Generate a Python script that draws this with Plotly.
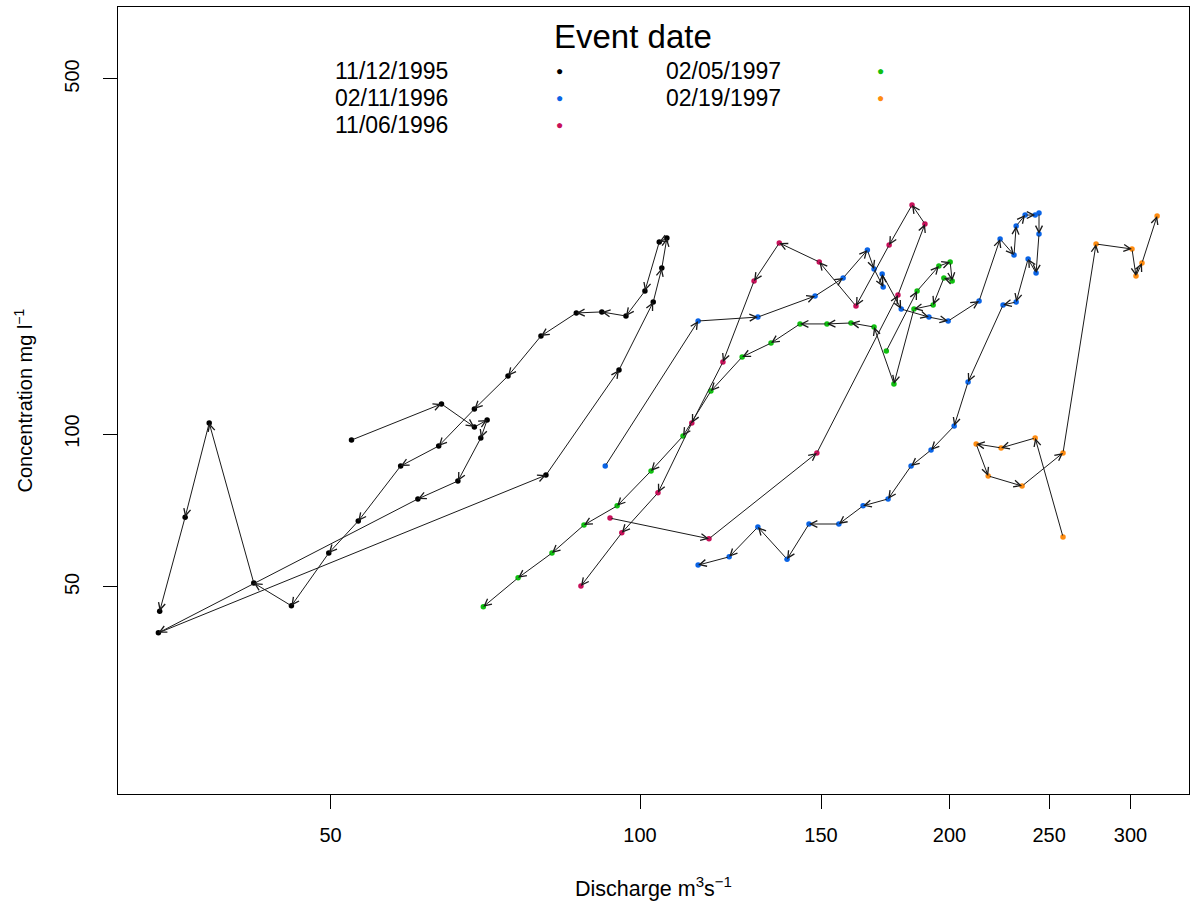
import numpy as np
import plotly.graph_objects as go

# ---------------- data (discharge m3/s, concentration mg/l), in time order ----------------
events = ["11/12/1995", "02/11/1996", "11/06/1996", "02/05/1997", "02/19/1997"]
colors = ["#000000", "#0A64E6", "#C8105A", "#10C010", "#FF8C10"]

q_1995_11_12 = [52.4, 64.1, 69.0, 71.0, 70.0, 66.5, 60.8, 34.0, 81.0, 95.4, 103.0, 105.0, 106.2, 104.4,
                101.1, 96.9, 91.8, 86.7, 80.1, 74.4, 69.0, 63.7, 58.5, 53.2, 49.8, 45.8, 42.1, 38.1, 36.1, 34.1]
c_1995_11_12 = [97.3, 114.6, 103.2, 106.5, 98.2, 80.8, 74.5, 40.6, 83.0, 133.7, 181.9, 212.2, 243.1, 238.8,
                191.2, 170.7, 173.9, 173.1, 155.9, 130.1, 112.0, 94.7, 86.5, 67.4, 58.3, 45.9, 50.9, 105.1, 68.6, 44.8]

q_1996_02_11 = [92.5, 113.9, 130.2, 148.0, 157.6, 166.4, 168.9, 172.4, 172.0, 179.5, 191.0, 199.4, 213.7, 224.0,
                231.1, 232.2, 236.9, 242.3, 244.4, 244.4, 242.8, 238.5, 232.2, 225.5, 208.5, 202.1, 191.9, 183.5,
                174.3, 164.8, 156.1, 146.0, 139.0, 130.2, 122.1, 113.9]
c_1996_02_11 = [86.5, 166.9, 169.9, 186.9, 202.8, 230.2, 211.3, 194.7, 206.5, 176.2, 169.9, 166.9, 182.7, 242.0,
                225.1, 256.7, 269.8, 269.8, 272.3, 247.6, 207.5, 221.1, 181.9, 179.5, 126.6, 103.7, 93.0, 86.5,
                74.5, 72.2, 66.5, 66.5, 56.7, 65.6, 57.3, 55.2]

q_1996_11_06 = [93.5, 116.7, 148.6, 178.2, 189.3, 183.9, 174.7, 162.2, 149.4, 136.6, 129.1, 120.4, 112.3, 104.1, 96.0, 87.6]
c_1996_11_06 = [68.3, 62.2, 91.8, 187.7, 259.1, 282.4, 235.5, 178.6, 218.1, 237.7, 200.1, 138.6, 105.1, 76.6, 63.9, 50.2]

q_1997_02_05 = [173.6, 186.0, 195.3, 200.3, 201.2, 197.5, 192.8, 184.7, 176.6, 168.9, 160.4, 152.0, 143.1, 134.1,
                125.7, 117.2, 110.1, 102.5, 95.0, 88.2, 82.1, 76.1, 70.4]
c_1997_02_05 = [145.7, 191.2, 214.1, 218.1, 200.1, 202.8, 179.5, 176.2, 125.5, 162.4, 165.4, 164.7, 164.7, 151.0,
                141.8, 121.5, 99.1, 84.6, 72.2, 66.2, 58.3, 52.1, 45.7]

q_1997_02_19 = [257.9, 242.3, 224.5, 212.3, 218.1, 235.3, 257.9, 277.7, 301.0, 303.7, 307.8, 318.4]
c_1997_02_19 = [62.7, 98.2, 93.9, 95.6, 82.7, 79.0, 91.8, 236.6, 231.3, 204.6, 217.1, 268.6]

series_q = [q_1995_11_12, q_1996_02_11, q_1996_11_06, q_1997_02_05, q_1997_02_19]
series_c = [c_1995_11_12, c_1996_02_11, c_1996_11_06, c_1997_02_05, c_1997_02_19]

x_ticks = [50, 100, 150, 200, 250, 300]
y_ticks = [50, 100, 500]

FONT = "Liberation Sans, Arial, Helvetica, sans-serif"

fig = go.Figure()
annotations = []

for name, col, qs, cs in zip(events, colors, series_q, series_c):
    lq = np.log10(qs)
    lc = np.log10(cs)
    # segments with arrow heads at each successive point
    for i in range(1, len(qs)):
        annotations.append(dict(
            x=lq[i], y=lc[i], ax=lq[i - 1], ay=lc[i - 1],
            xref="x", yref="y", axref="x", ayref="y",
            text="", showarrow=True, arrowhead=5, arrowsize=1.35,
            arrowwidth=1, arrowcolor="#1a1a1a", standoff=0, startstandoff=0,
        ))
    fig.add_trace(go.Scatter(
        x=qs, y=cs, mode="markers", name=name,
        marker=dict(color=col, size=5.5, line=dict(width=0)),
        showlegend=False, hoverinfo="x+y+name",
    ))

# ---------------- manual legend (R style) ----------------
annotations.append(dict(text="Event date", xref="paper", yref="paper", x=0.481, y=0.962,
                        showarrow=False, font=dict(family=FONT, size=33, color="black"),
                        xanchor="center", yanchor="middle"))
leg_rows = [0.9187, 0.8844, 0.8501]
leg_label_x = [0.2007, 0.5098]
leg_dot_x = [0.4118, 0.7124]
for k, (name, col) in enumerate(zip(events, colors)):
    colidx = 0 if k < 3 else 1
    row = k if k < 3 else k - 3
    annotations.append(dict(text=name, xref="paper", yref="paper",
                            x=leg_label_x[colidx], y=leg_rows[row], showarrow=False,
                            xanchor="left", yanchor="middle",
                            font=dict(family=FONT, size=23, color="black")))
    annotations.append(dict(text="●", xref="paper", yref="paper",
                            x=leg_dot_x[colidx], y=leg_rows[row], showarrow=False,
                            xanchor="center", yanchor="middle",
                            font=dict(family=FONT, size=12, color=col)))

# axis titles
annotations.append(dict(text="Discharge m<sup>3</sup>s<sup>−1</sup>", xref="paper", yref="paper",
                        x=0.5, y=0, yshift=-93, showarrow=False, xanchor="center", yanchor="middle",
                        font=dict(family=FONT, size=21.5, color="black")))
annotations.append(dict(text="Concentration mg l<sup>−1</sup>", xref="paper", yref="paper",
                        x=0, y=0.5, xshift=-95, showarrow=False, xanchor="center", yanchor="middle",
                        textangle=-90, font=dict(family=FONT, size=20, color="black")))

axis_common = dict(showgrid=False, zeroline=False, showline=True, linecolor="black", linewidth=1,
                   mirror=True, ticks="outside", ticklen=14, tickwidth=1, tickcolor="black",
                   tickfont=dict(family=FONT, size=20, color="black"))

fig.update_layout(
    width=1191, height=908,
    margin=dict(l=118, r=2, t=7, b=114),
    paper_bgcolor="white", plot_bgcolor="white",
    xaxis=dict(type="log", range=[1.4922, 2.534], tickvals=x_ticks,
               ticktext=[str(v) for v in x_ticks], ticklabelstandoff=9, **axis_common),
    yaxis=dict(type="log", range=[1.2913, 2.8406], tickvals=y_ticks,
               ticktext=[str(v) for v in y_ticks], tickangle=-90, ticklabelstandoff=16, **axis_common),
    annotations=annotations,
    showlegend=False,
)

fig.write_html("out.html")
